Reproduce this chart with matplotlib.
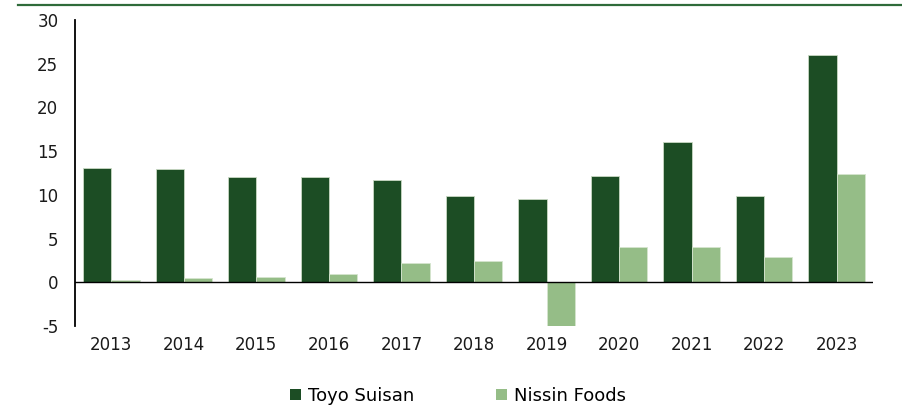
import matplotlib
matplotlib.use("Agg")
import matplotlib.pyplot as plt
import numpy as np
from matplotlib.lines import Line2D
from matplotlib.patches import Patch

years = ["2013", "2014", "2015", "2016", "2017", "2018", "2019", "2020", "2021", "2022", "2023"]
toyo_suisan = [13.1, 13.0, 12.05, 12.05, 11.7, 9.85, 9.5, 12.1, 16.0, 9.9, 26.0]
nissin_foods = [0.25, 0.5, 0.65, 1.0, 2.25, 2.4, -5.15, 4.0, 4.0, 2.9, 12.4]
series_names = ["Toyo Suisan", "Nissin Foods"]
y_ticks = [-5, 0, 5, 10, 15, 20, 25, 30]

dark = "#1c4d24"
light = "#95bd87"

plt.rcParams['font.family'] = ['DejaVu Sans']

fig = plt.figure(figsize=(9.03, 4.12), dpi=100)
ax = fig.add_axes([75/903, 1-326/412, (873-75)/903, (326-20)/412])

x = np.arange(len(years))
w = 0.39
ax.bar(x - w/2, toyo_suisan, w, color=dark, edgecolor="#c9d9c4", linewidth=0.6, zorder=2)
ax.bar(x + w/2, nissin_foods, w, color=light, edgecolor="#d5e5cf", linewidth=0.6, zorder=2)

ax.set_xlim(-0.5, len(years) - 0.5)
ax.set_ylim(-5, 30)
ax.set_yticks(y_ticks)
ax.set_yticklabels([str(t) for t in y_ticks])
ax.set_xticks(x)
ax.set_xticklabels(years)
ax.axhline(0, color="black", linewidth=1.0, zorder=4)

for s in ["top", "right", "bottom"]:
    ax.spines[s].set_visible(False)
ax.spines["left"].set_color("black")
ax.spines["left"].set_linewidth(1.3)
ax.tick_params(axis="x", length=0, pad=7, labelsize=12, colors="#1a1a1a")
ax.tick_params(axis="y", length=0, pad=12, labelsize=12, colors="#1a1a1a")

# top rule
fig.add_artist(Line2D([18/903, 1.0], [1-4.5/412, 1-4.5/412], color="#2f6b3a", linewidth=1.6,
                      transform=fig.transFigure))

handles = [Patch(facecolor=dark, edgecolor="none"), Patch(facecolor=light, edgecolor="none")]
fig.legend(handles, series_names, loc="center", bbox_to_anchor=(458/903, 1-396/412), ncol=2,
           frameon=False, fontsize=13, handlelength=0.6, handleheight=0.6, handletextpad=0.4,
           columnspacing=4.5)

fig.savefig("out.png", dpi=100)
